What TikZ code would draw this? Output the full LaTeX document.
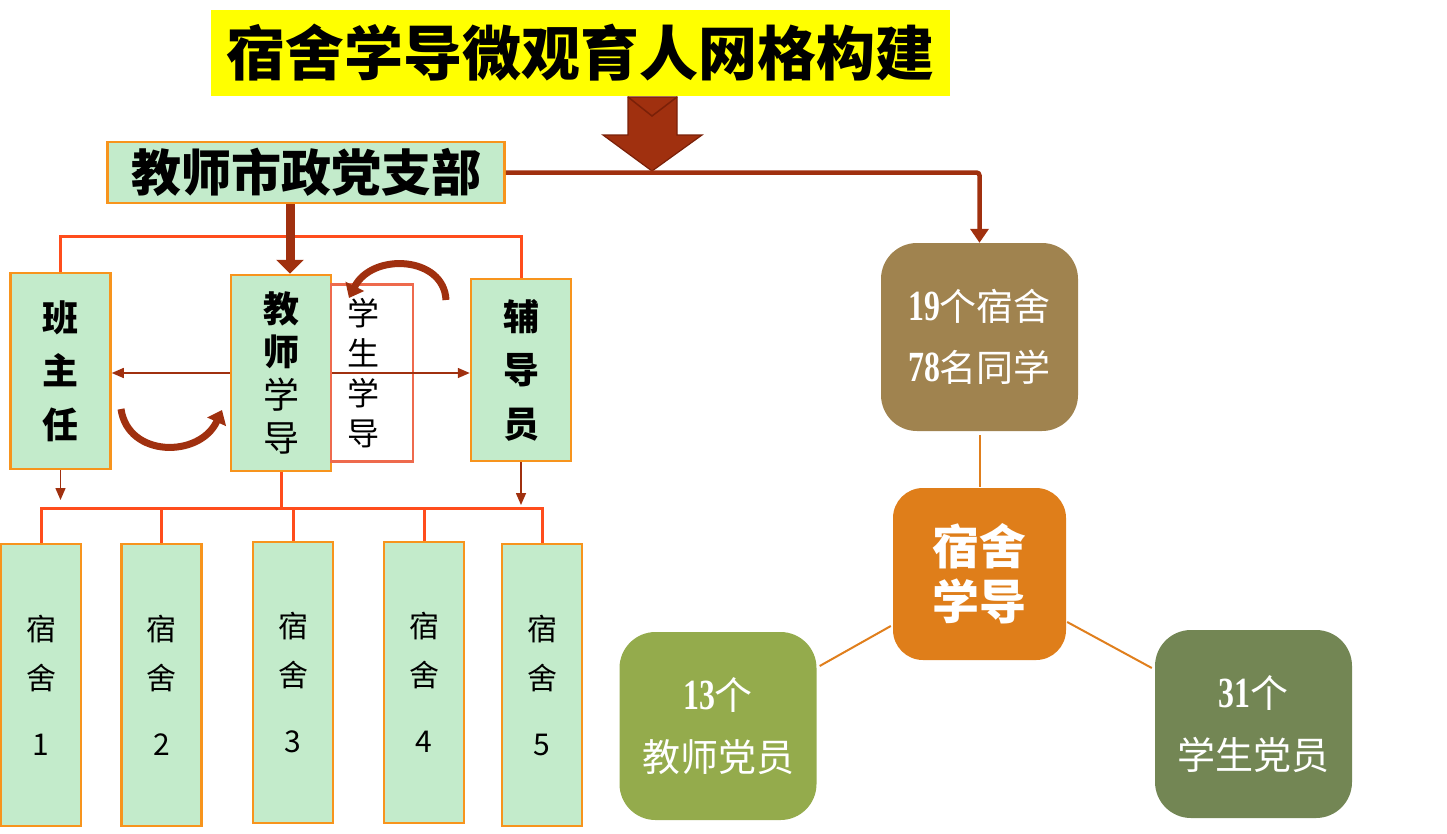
\documentclass[tikz,border=0pt]{standalone}
\usepackage{fontspec}
\usepackage{graphicx}
\newfontfamily\cjk{Noto Sans CJK SC}
\newfontfamily\tnr{Liberation Serif}
\usetikzlibrary{arrows.meta,calc}
\definecolor{ttlyellow}{HTML}{FFFF00}
\definecolor{lgreen}{HTML}{C3EBCB}
\definecolor{oborder}{HTML}{F7941D}
\definecolor{redline}{HTML}{FF4D1C}
\definecolor{dred}{HTML}{A0300F}
\definecolor{ddred}{HTML}{7A2008}
\definecolor{salmon}{HTML}{EE6A4D}
\definecolor{brownbox}{HTML}{A0834F}
\definecolor{orangebox}{HTML}{DF7E1A}
\definecolor{greenbox}{HTML}{94AB4C}
\definecolor{dgreenbox}{HTML}{738654}
\definecolor{conn}{HTML}{E07F1D}
\newcommand{\tdig}[1]{\scalebox{0.74}[1]{\tnr\bfseries\fontsize{43}{43}\selectfont #1}}
\begin{document}
\begin{tikzpicture}[x=1pt,y=-1pt,
  gbox/.style={draw=oborder, line width=2.5pt, fill=lgreen, inner sep=0pt, align=center},
  vtxt/.style={font={\cjk\bfseries\fontsize{36}{53.5}\selectfont}},
  dorm/.style={gbox, minimum width=80pt, minimum height=282pt, font={\cjk\fontsize{30}{49}\selectfont}},
  rbox/.style={rounded corners=36pt, inner sep=0pt, align=center, text=white, minimum width=197pt, minimum height=188pt},
  rline/.style={draw=redline, line width=3pt},
  thinarr/.style={draw=dred, line width=1.5pt, -{Triangle[length=12pt,width=10pt]}},
  cline/.style={draw=conn, line width=2pt}]
\useasboundingbox (0,0) rectangle (1447,833);

% title
\node[fill=ttlyellow, minimum width=739pt, minimum height=86pt, inner sep=0pt,
      font={\cjk\bfseries\fontsize{59}{60}\selectfont}] (title) at (580.5,53) {宿舍学导微观育人网格构建};

% block arrow
\filldraw[fill=dred, draw=ddred, line width=1.2pt, line join=miter]
  (628,97) -- (677,97) -- (677,135) -- (702,135) -- (652,171) -- (603,135) -- (628,135) -- cycle;
\draw[ddred, line width=1.5pt] (628,97) -- (652,116) -- (677,97);

% party branch box
\node[gbox, minimum width=397pt, minimum height=61pt,
      font={\cjk\bfseries\fontsize{50}{50}\selectfont}] (zb) at (306,172.5) {教师市政党支部};

% middle boxes
\node[gbox, minimum width=100pt, minimum height=196pt, vtxt] (bzr) at (60.5,371) {班\\主\\任};
\node[gbox, minimum width=100pt, minimum height=196pt,
      font={\cjk\fontsize{36}{43}\selectfont}] (jsxd) at (281,373) {\bfseries 教\\\bfseries 师\\学\\导};
\node[draw=salmon, line width=2.5pt, fill=white, minimum width=82pt, minimum height=177pt, inner sep=0pt,
      text width=50pt, align=left,
      font={\cjk\fontsize{32}{40}\selectfont}] (xsxd) at (372,373) {学\\生\\学\\导};
\node[gbox, minimum width=100pt, minimum height=182pt, vtxt] (fdy) at (521,370) {辅\\导\\员};

% dorm boxes
\node[dorm] (d1) at (41,685) {宿\\舍\\[17pt]1};
\node[dorm] (d2) at (161.5,685) {宿\\舍\\[17pt]2};
\node[dorm, minimum height=281pt] (d3) at (293,682.5) {宿\\舍\\[17pt]3};
\node[dorm, minimum height=281pt] (d4) at (424,682.5) {宿\\舍\\[17pt]4};
\node[dorm] (d5) at (542,685) {宿\\舍\\[17pt]5};

% top red-orange bracket
\coordinate (topbus) at (0,236);
\draw[rline] (bzr.north) -- (bzr.north |- topbus) -- (fdy.north |- topbus) -- (fdy.north);

% thick arrow from branch to teacher guide
\draw[dred, line width=9pt, -{Triangle[length=14pt,width=27pt]}]
  ([xshift=9pt]jsxd.north |- zb.south) -- ([xshift=9pt]jsxd.north);

% horizontal arrows
\draw[thinarr] (jsxd.west) -- (bzr.east |- jsxd.west);
\draw[thinarr] (jsxd.east) -- (fdy.west |- jsxd.east);

% curved arrows
\coordinate (c1s) at (121,409);
\coordinate (c1e) at (222,410);
\draw[dred, line width=7pt, -{Triangle[length=13pt,width=20pt]}]
  (c1s) .. controls (128,458) and (200,458) .. (c1e);
\coordinate (c2s) at (446,300);
\coordinate (c2e) at (349,298);
\draw[dred, line width=7pt, -{Triangle[length=13pt,width=20pt]}]
  (c2s) .. controls (444,256) and (372,252) .. (c2e);

% bottom bus
\coordinate (bus) at (0,508);
\draw[rline] (jsxd.south) -- (jsxd.south |- bus);
\draw[rline] (d1.north) -- (d1.north |- bus) -- (d5.north |- bus) -- (d5.north);
\draw[rline] (d2.north) -- (d2.north |- bus);
\draw[rline] (d3.north) -- (d3.north |- bus);
\draw[rline] (d4.north) -- (d4.north |- bus);

% arrows down to bus
\draw[thinarr] (bzr.south) -- ($(bzr.south |- bus)+(0,-8)$);
\draw[thinarr] (fdy.south) -- ($(fdy.south |- bus)+(0,-3)$);

% right side
\node[rbox, fill=brownbox, font={\cjk\fontsize{37}{61}\selectfont}] (brown) at (979.5,337)
  {\tdig{19}个宿舍\\\tdig{78}名同学};
\node[rbox, fill=orangebox, minimum width=173pt, minimum height=172pt, rounded corners=30pt,
      font={\cjk\bfseries\fontsize{47}{55}\selectfont}] (center) at (979.5,574) {宿舍\\学导};
\node[rbox, fill=greenbox, font={\cjk\fontsize{38}{62}\selectfont}] (tp) at (718,726)
  {\tdig{13}个\\教师党员};
\node[rbox, fill=dgreenbox, font={\cjk\fontsize{38}{62}\selectfont}] (sp) at (1253.5,724)
  {\tdig{31}个\\学生党员};

% connector from branch to brown box
\draw[dred, line width=4.5pt, rounded corners=3pt, -{Triangle[length=14pt,width=18pt]}]
  (zb.east) -| (brown.north);

% orange connectors
\draw[cline] ([yshift=-4pt]brown.south) -- ([yshift=1pt]center.north);
\draw[cline] ($(tp.east)+(3,-60)$) -- ($(center.west)+(-2,52)$);
\draw[cline] ($(center.east)+(1,48)$) -- ($(sp.west)+(-3,-56)$);
\end{tikzpicture}
\end{document}
